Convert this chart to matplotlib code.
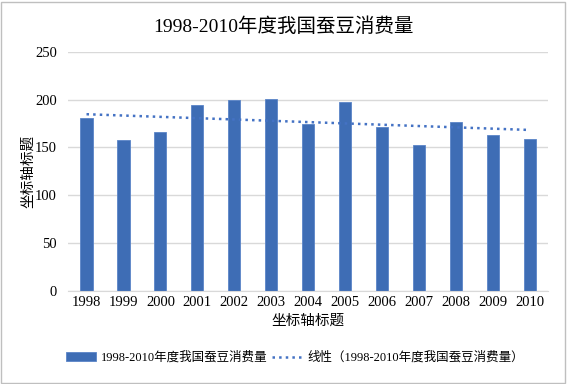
import numpy as np
import matplotlib.pyplot as plt

plt.rcParams['font.family'] = ['Liberation Serif', 'Noto Sans CJK SC']

years = ['1998', '1999', '2000', '2001', '2002', '2003', '2004',
         '2005', '2006', '2007', '2008', '2009', '2010']
xiaofei = [181, 158, 166, 194, 200, 201, 174, 198, 171, 152, 177, 163, 159]
ming = '1998-2010年度我国蚕豆消费量'

fig = plt.figure(figsize=(5.67, 3.84), dpi=100)
ax = fig.add_axes([0.12, 0.243, 0.847, 0.622])

x = np.arange(len(years))
bars = ax.bar(x, xiaofei, width=0.33, color='#3E6DB5', edgecolor='#5B85C8',
              linewidth=0.6, label=ming, zorder=2)

# 线性趋势线
k, b = np.polyfit(x, xiaofei, 1)
trend, = ax.plot(x, k * x + b, ':', color='#4472C4', linewidth=1.8,
                 label='线性（' + ming + '）', zorder=3)

ax.set_ylim(0, 250)
ax.set_yticks(range(0, 251, 50))
ax.set_xlim(-0.5, len(years) - 0.5)
ax.set_xticks(x)
ax.set_xticklabels(years)
ax.grid(axis='y', color='#d9d9d9', linewidth=1, zorder=0)
for s in ['top', 'right', 'left']:
    ax.spines[s].set_visible(False)
ax.spines['bottom'].set_color('#d9d9d9')
ax.tick_params(length=0, labelsize=10.5, colors='#000000')
ax.tick_params(axis='y', pad=8)

ax.set_xlabel('坐标轴标题', fontsize=10.5)
ax.set_ylabel('坐标轴标题', fontsize=10.5, labelpad=0)
fig.suptitle(ming, fontsize=14, y=0.955)

fig.legend([bars, trend], [ming, '线性（' + ming + '）'],
           loc='center', bbox_to_anchor=(0.52, 0.068), ncol=2, frameon=False,
           fontsize=9, handlelength=2.4, columnspacing=0.4, handletextpad=0.4)

border = plt.Rectangle((0.002, 0.003), 0.995, 0.993, transform=fig.transFigure,
                       fill=False, edgecolor='#bfbfbf', linewidth=1)
fig.patches.append(border)

fig.savefig('out.png', dpi=100)
